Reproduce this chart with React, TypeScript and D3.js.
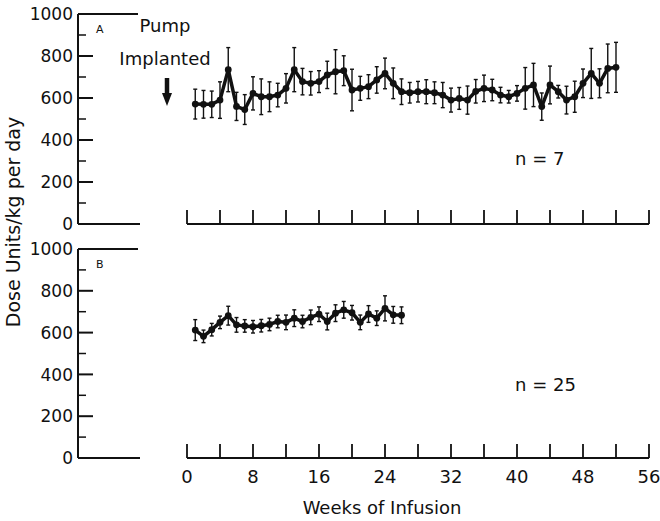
import React from "react";
import * as d3 from "d3";

// Panel A (n = 7): weekly mean dose, weeks 1..52
const weeksA = [1,2,3,4,5,6,7,8,9,10,11,12,13,14,15,16,17,18,19,20,21,22,23,24,25,26,27,28,29,30,31,32,33,34,35,36,37,38,39,40,41,42,43,44,45,46,47,48,49,50,51,52];
const valuesA = [571,570,570,590,735,560,545,622,606,606,614,646,735,678,670,678,710,725,730,638,646,654,686,717,670,630,625,630,630,625,614,590,598,590,632,646,638,614,606,622,646,662,559,662,630,590,606,670,717,670,741,746];
const errorsA = [71,66,63,87,105,67,71,79,85,71,56,70,105,63,56,52,65,105,71,99,57,57,63,73,73,61,49,49,57,52,60,57,52,67,56,63,51,37,30,37,99,103,65,90,30,66,74,68,119,69,116,119];

// Panel B (n = 25): weekly mean dose, weeks 1..26
const weeksB = [1,2,3,4,5,6,7,8,9,10,11,12,13,14,15,16,17,18,19,20,21,22,23,24,25,26];
const valuesB = [612,582,614,649,681,637,632,628,633,639,653,649,669,653,673,688,653,693,709,695,649,689,669,716,685,683];
const errorsB = [50,30,30,30,45,35,30,30,30,30,30,35,40,30,35,35,40,40,40,35,35,40,35,60,40,40];

const xTicks = [0,4,8,12,16,20,24,28,32,36,40,44,48,52,56];
const xTickLabels = [0,8,16,24,32,40,48,56];
const yTicks = [0,200,400,600,800,1000];
const yMinorTicks = [100,300,500,700,900];

const W = 660;
const H = 521;
const FONT = "DejaVu Sans, Verdana, sans-serif";

const x = d3.scaleLinear().domain([0, 56]).range([187, 649]);

type PanelProps = {
  y: d3.ScaleLinear<number, number>;
  weeks: number[];
  values: number[];
  errors: number[];
  label: string;
};

function Panel({ y, weeks, values, errors, label }: PanelProps) {
  const axisX = 78;
  const line = d3
    .line<number>()
    .x((_, i) => x(weeks[i]))
    .y((d) => y(d));
  const y0 = y(0);
  const y1000 = y(1000);
  return (
    <g>
      {/* y axis */}
      <line x1={axisX} x2={axisX} y1={y1000} y2={y0} stroke="#111" strokeWidth={2} />
      <line x1={axisX} x2={138} y1={y1000} y2={y1000} stroke="#111" strokeWidth={2} />
      <line x1={axisX} x2={140} y1={y0} y2={y0} stroke="#111" strokeWidth={2} />
      {yTicks.filter((t) => t !== 0 && t !== 1000).map((t) => (
        <line key={"M" + t} x1={axisX} x2={axisX + 15} y1={y(t)} y2={y(t)} stroke="#111" strokeWidth={2} />
      ))}
      {yMinorTicks.map((t) => (
        <line key={"m" + t} x1={axisX} x2={axisX + 8} y1={y(t)} y2={y(t)} stroke="#111" strokeWidth={1.5} />
      ))}
      {yTicks.map((t) => (
        <text key={"l" + t} x={73} y={y(t)} dy="0.36em" textAnchor="end" fontSize={17} fontFamily={FONT} fill="#111">
          {t}
        </text>
      ))}
      <text x={96} y={y1000 + 19} fontSize={11} fontFamily={FONT} fill="#111">{label}</text>
      {/* x axis */}
      <line x1={x(0)} x2={x(56)} y1={y0} y2={y0} stroke="#111" strokeWidth={2} />
      {xTicks.map((t) => (
        <line key={"x" + t} x1={x(t)} x2={x(t)} y1={y0} y2={y0 - 14} stroke="#111" strokeWidth={1.8} />
      ))}
      {/* error bars */}
      {values.map((v, i) => {
        const cx = x(weeks[i]);
        const top = y(v + errors[i]);
        const bot = y(v - errors[i]);
        return (
          <g key={"e" + i} stroke="#111" strokeWidth={1.4}>
            <line x1={cx} x2={cx} y1={top} y2={bot} />
            <line x1={cx - 2} x2={cx + 2} y1={top} y2={top} />
            <line x1={cx - 2} x2={cx + 2} y1={bot} y2={bot} />
          </g>
        );
      })}
      <path d={line(values) || ""} fill="none" stroke="#111" strokeWidth={3.5} strokeLinejoin="round" />
      {values.map((v, i) => (
        <circle key={"p" + i} cx={x(weeks[i])} cy={y(v)} r={3.4} fill="#111" />
      ))}
    </g>
  );
}

export default function App() {
  const yA = d3.scaleLinear().domain([0, 1000]).range([224, 14]);
  const yB = d3.scaleLinear().domain([0, 1000]).range([458, 249]);
  return (
    <svg
      width={W}
      height={H}
      viewBox={`0 0 ${W} ${H}`}
      style={{ position: "absolute", left: 0, top: 0, background: "#fff" }}
    >
      <rect x={0} y={0} width={W} height={H} fill="#fff" />
      <Panel y={yA} weeks={weeksA} values={valuesA} errors={errorsA} label="A" />
      <Panel y={yB} weeks={weeksB} values={valuesB} errors={errorsB} label="B" />
      {xTickLabels.map((t) => (
        <text key={"xl" + t} x={x(t)} y={483} textAnchor="middle" fontSize={18} fontFamily={FONT} fill="#111">
          {t}
        </text>
      ))}
      <text x={382} y={514} textAnchor="middle" fontSize={18} fontFamily={FONT} fill="#111">
        Weeks of Infusion
      </text>
      <text
        transform={`translate(20, 222) rotate(-90)`}
        textAnchor="middle"
        fontSize={19}
        fontFamily={FONT}
        fill="#111"
      >
        Dose Units/kg per day
      </text>
      <text x={165} y={32} textAnchor="middle" fontSize={18} fontFamily={FONT} fill="#111">Pump</text>
      <text x={165} y={65} textAnchor="middle" fontSize={18} fontFamily={FONT} fill="#111">Implanted</text>
      {/* arrow */}
      <line x1={167} x2={167} y1={78} y2={96} stroke="#111" strokeWidth={4.5} />
      <path d="M162,93 L172,93 L167,106 Z" fill="#111" />
      <text x={515} y={165} fontSize={18} fontFamily={FONT} fill="#111">n = 7</text>
      <text x={515} y={391} fontSize={18} fontFamily={FONT} fill="#111">n = 25</text>
    </svg>
  );
}
